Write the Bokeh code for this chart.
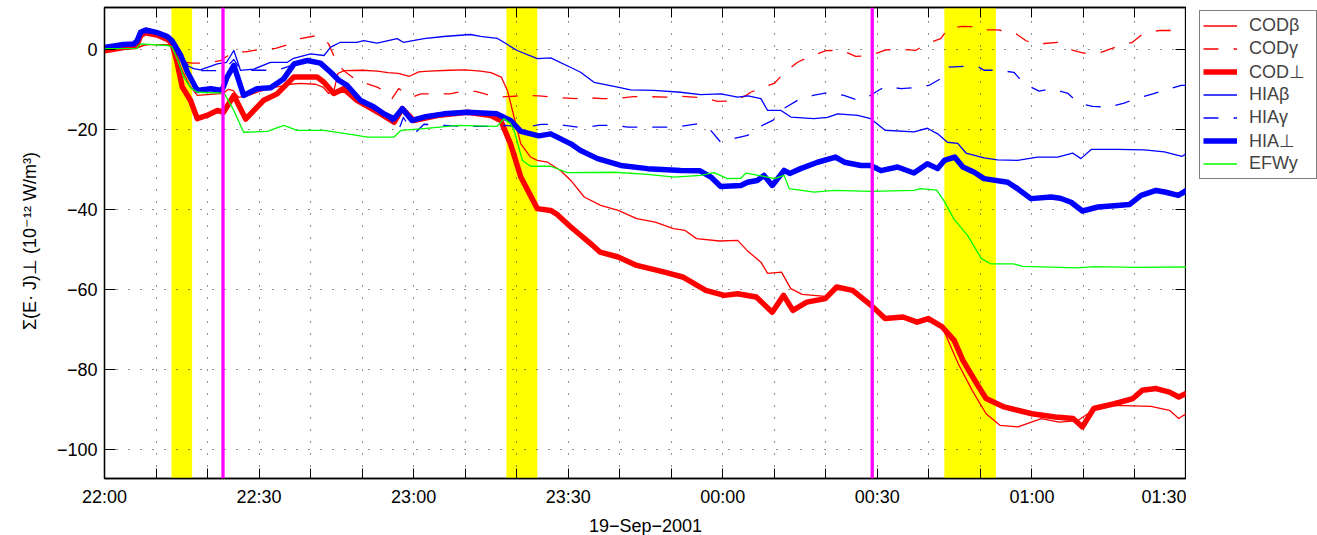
from bokeh.plotting import figure
from bokeh.layouts import row
from bokeh.models import Range1d, FixedTicker, LinearAxis, Legend, LegendItem, BoxAnnotation, Span
from bokeh.embed import file_html
from bokeh.resources import INLINE

# time in minutes after 22:00 UT (19-Sep-2001), value in 1e-12 W/m^3
cod_beta = [(0, -0.3), (6, 0.2), (8, 1.2), (12.5, 1.2), (13.5, 0), (15, -5), (16.5, -9), (18, -11.5),
            (20, -11.3), (23, -11), (24, -10), (25, -10.3), (26, -12), (28, -11.5), (30, -10.5),
            (33, -9.5), (36, -8.7), (38, -8.5), (41, -8.7), (42.5, -9.5), (43.5, -11), (44.5, -10.5),
            (45.3, -6), (46.5, -5.3), (50, -5.2), (53, -5.4), (55, -5.8), (57, -6), (59.2, -6.7),
            (61, -5.6), (63, -5.4), (67, -5.2), (70, -5.1), (73, -5.4), (75, -5.8), (77, -6.9),
            (78.2, -10.25), (79.5, -16.9), (80.8, -23.6), (82.7, -26.9), (84, -27.75), (86, -28.2),
            (88.5, -30.25), (90.5, -32.75), (93.1, -36.9), (96.3, -39), (99.7, -40.25), (103.3, -42.3),
            (106.9, -43.2), (110.4, -44.8), (112.7, -45.25), (114.9, -47.3), (119.4, -47.9),
            (122.9, -47.75), (124.7, -50.25), (127.4, -53.2), (128.7, -56), (131.4, -55.7),
            (133.2, -59.8), (135.4, -61.25), (139.9, -61.75), (142.5, -59.4), (145.2, -59.9),
            (148.8, -64.2), (151.5, -67.5), (155, -67), (157.7, -68.4), (159.9, -67.5), (162.6, -69.4),
            (165.7, -78.6), (168.4, -85.25), (171.1, -91.1), (173.8, -94), (177.3, -94.4),
            (181.8, -92.3), (185.3, -93.2), (188.9, -92.8), (192.4, -89.8), (196, -89),
            (203.1, -89.25), (206.7, -90.25), (208.5, -92.3), (210, -91)]

cod_gamma = [(0, -0.3), (6, 0.3), (8, 1.2), (12.5, 1.2), (13.5, -0.5), (14.8, -3), (17, -3.4), (20, -3.4),
             (22.5, -2.8), (24, -1.5), (25, -0.6), (27.4, -0.6), (29, -0.2), (30.6, 0), (33.2, 0.3),
             (36.1, 1.4), (38, 2.7), (41.3, 3.5), (42.5, 2.8), (43.5, 1.4), (45.2, -3.6), (46.4, -5.25),
             (49, -7.75), (52.9, -9.4), (54.5, -10.5), (55.8, -12.3), (57.1, -9.8), (59.7, -11.9),
             (61.4, -11.1), (67, -11.1), (69.5, -10.5), (72, -10.5), (73.5, -11), (76, -11.9),
             (78, -11.8), (82, -11.5), (84.3, -11.6), (88.8, -12.1), (91.5, -12.3), (93, -12),
             (96.7, -12.3), (99.8, -12.2), (102.7, -11.8), (105.6, -11.8), (109, -11.9), (112, -11.7),
             (115.3, -12), (117.7, -12.5), (119, -13), (121, -12.9), (123, -12.4), (124.5, -11.5),
             (125.4, -10.7), (128, -9.4), (130, -8.5), (132, -5.7), (134.5, -3.2), (136.7, -1.9),
             (140, -0.3), (143, -0.2), (145.8, -1.7), (148.3, -1.6), (151.7, -0.1), (154.6, 0),
             (157.5, -0.2), (159.8, 1.6), (162.3, 2.7), (163.7, 5.2), (166.5, 5.8), (169, 5.7),
             (170.4, 4.9), (173.3, 4.9), (176.5, 4.3), (178.8, 2.25), (180.5, 1.3), (182.4, 1.5),
             (185, 1.8), (188, -0.25), (190, -0.9), (193.4, -0.7), (196.3, 0.6), (199.5, 1.8),
             (201.5, 3.9), (204.7, 4.75), (207.5, 4.75), (210, 4.75)]

cod_perp = [(0, -0.3), (3.7, 0.5), (6.3, 1), (7, 3.5), (8, 4.2), (10.2, 3.6), (12.2, 2.5), (13.1, 1.5),
            (14, -2.75), (15.1, -9.4), (16.7, -12.75), (18, -17.3), (19.9, -16.5), (21.9, -15.25),
            (23.1, -15.7), (25.1, -11.5), (27.4, -17.4), (30.9, -12.7), (33.5, -11.1), (36.7, -6.9),
            (41.3, -6.9), (42.6, -8.2), (44.5, -11), (46.4, -9.8), (49, -12.75), (53.6, -16.1),
            (56.2, -18.2), (57.8, -14.8), (60, -17.75), (64.6, -16.5), (70.4, -15.7), (75, -16.5),
            (76.9, -17.75), (78.8, -23.6), (80.8, -31.9), (84, -39.8), (86.6, -40.25), (87.7, -41.1),
            (90.5, -44.4), (94.4, -48.6), (96.2, -50.7), (99.7, -51.9), (103.3, -54), (108.7, -55.7),
            (112.2, -56.9), (116.7, -60.25), (120.3, -61.5), (122.9, -61.1), (126.5, -61.9),
            (129.6, -65.7), (131.8, -61.5), (133.6, -65.25), (136.3, -63.2), (139.9, -62.3),
            (142.1, -59.4), (145.2, -60.25), (148.8, -64), (151.5, -67.3), (155, -66.9),
            (157.7, -68.2), (159.9, -67.3), (162.6, -69.4), (164.9, -72.75), (166.6, -77.75),
            (169.3, -83.6), (171.1, -87.3), (174.6, -89.4), (180, -91.1), (184.5, -91.9), (188, -92.3),
            (189.8, -94.4), (192, -89.8), (196, -88.6), (199.6, -87.3), (201.4, -85.25),
            (204.1, -84.8), (206.7, -85.7), (208.5, -86.9), (210, -86)]

hia_beta = [(0, 0.5), (6, 1.5), (7.5, 4.3), (10, 4), (12, 3), (13, 1.5), (13.8, 1.2), (14.8, -0.7),
            (16, -4), (17.3, -4.8), (18.6, -5.1), (21.9, -3.6), (23.7, -3.2), (25.1, -0.25),
            (26.4, -5.25), (29, -4.9), (32.2, -3.2), (35.5, -3.2), (36.7, -2.2), (40, -1.1),
            (42.6, -1.5), (43.9, 0.6), (45.8, 1.8), (49, 1.8), (50.3, 2.2), (52.9, 1.6), (56.8, 2.7),
            (58, 1.8), (62, 2.7), (65.8, 3.25), (71, 3.75), (73, 3.3), (76.2, 2.8), (80.1, -0.25),
            (84, -2.3), (86.6, -2.1), (90.5, -4.5), (92.4, -5.7), (95, -8.2), (98.9, -9.25),
            (102.1, -10.1), (106.6, -10.25), (111.8, -10.7), (115.7, -11.3), (119.6, -11.1),
            (122.9, -11.9), (124.9, -11.6), (127.4, -12.3), (128.7, -15.25), (131.3, -15.25),
            (133.2, -16.9), (137.7, -17.3), (140.3, -17), (142.3, -16.1), (146.2, -16.5),
            (148.7, -17.3), (151.5, -20.2), (157.1, -20.6), (159.7, -19.7), (161.7, -21.1),
            (163.6, -23.2), (165.6, -23.5), (167.2, -25.9), (170.7, -27.1), (173.3, -27.6),
            (177.2, -27.75), (181.1, -26.9), (185, -26.9), (187.9, -25.9), (189.5, -27.3),
            (191.5, -25), (196.6, -25), (201.8, -25.1), (205.7, -25.6), (209.1, -26.75), (210, -26)]

hia_gamma = [(0, 0.5), (3.7, 1.2), (6.3, 2), (7, 4), (8, 4.6), (10.2, 4), (12.2, 3), (13.1, 2), (15, -2),
             (17, -5), (19, -5.3), (22, -5.3), (24, -4), (25.1, -2.5), (26.5, -5.3), (29, -5.2),
             (32, -5.2), (34, -5), (36.8, -3.8), (39.4, -2.9), (41.9, -3.6), (43.9, -5.9), (45.5, -8),
             (47.1, -9.2), (49.7, -13), (52.3, -14.6), (54.2, -16.3), (55.8, -18), (57, -20.5),
             (58, -17), (59.2, -19.4), (60.5, -20.6), (62, -18.7), (66, -19), (70, -19.25),
             (75, -19.25), (78, -19), (81.4, -19.5), (84.7, -18.75), (88, -18.75), (93, -19.6),
             (95.9, -19), (99, -19), (101.6, -19.4), (104.8, -19.4), (108, -19.4), (111, -19.4),
             (115, -18.6), (117.7, -20.3), (119.6, -23.2), (122, -22.3), (124.8, -21.5), (127, -19.4),
             (129.7, -17.75), (131.8, -14.8), (134.8, -12.5), (137.5, -11.5), (140.6, -10.7),
             (143.5, -11.5), (146.4, -12.75), (148.3, -11.75), (150.5, -10), (151.7, -9.25),
             (154.6, -9.8), (157.5, -9.5), (160, -9), (162.3, -7.3), (163.9, -4.4), (166.8, -4.2),
             (169.7, -4.4), (170.7, -5.2), (173.4, -5.2), (176.5, -5.7), (178.5, -8.6), (181.4, -10.4),
             (184, -9.8), (187, -11), (189, -13.4), (191.8, -14.25), (194.8, -14.4), (197.9, -13.4),
             (200.2, -12.3), (203.5, -11.1), (206, -10.1), (209, -9), (210, -9)]

hia_perp = [(0, 0.5), (3.7, 1.25), (5.7, 1.4), (6.3, 2.1), (7, 4.3), (8, 4.9), (10.2, 4.2), (12.2, 3.25),
            (13.1, 2.2), (14.8, -1.5), (16.1, -5.7), (18, -10.25), (20.6, -9.8), (22.8, -10.25),
            (23.8, -6.9), (25.1, -4), (27, -11.5), (29.6, -9.8), (32.2, -9.6), (34.8, -7.3),
            (36.8, -3.6), (39.4, -2.75), (41.9, -3.4), (43.9, -5.7), (45.5, -7.75), (47.1, -9),
            (49.7, -12.75), (52.3, -14.4), (54.2, -16.1), (56.2, -17.3), (57.8, -14.8), (59.7, -17.75),
            (62, -16.9), (65.9, -16.1), (70.4, -15.7), (76.2, -16.1), (78.8, -17.75), (80.8, -20.5),
            (84.3, -21.6), (86.6, -21.1), (90.5, -23.6), (92.4, -25.25), (95.7, -27.3), (100.2, -29),
            (105.4, -29.8), (111.8, -30.25), (115.5, -30.3), (117.7, -31.9), (119.6, -34.25),
            (123.5, -34), (124.8, -33.2), (126.7, -32.75), (128, -31.5), (129.6, -34), (131.9, -30.25),
            (133, -31), (135.1, -29.8), (138.4, -28.2), (141.9, -26.9), (143.6, -28.2), (146.8, -29),
            (148.7, -29), (150.7, -30.3), (153.9, -29.4), (157.1, -30.9), (159.7, -28.6),
            (161.7, -29.8), (163, -27.75), (165, -26.9), (166.6, -29.4), (168.8, -30.7),
            (170.7, -32.3), (175.3, -33.2), (177.2, -34.8), (179.8, -37.3), (183.7, -36.9),
            (185.5, -37.2), (187.6, -38.2), (189.8, -40.4), (192.8, -39.4), (196.6, -39),
            (198.9, -38.8), (201.2, -36.5), (204.1, -35.25), (206, -35.7), (208.4, -36.5), (210, -35.25)]

efw_y = [(0, 0.2), (6.3, 0.3), (7, 1.4), (12.2, 1), (13.1, 0.6), (14.1, -2.3), (15.4, -7), (16.7, -9.6),
         (18, -10.7), (23.2, -10.9), (25.1, -15.25), (27, -20.7), (31.6, -20.5), (34.8, -19),
         (37.4, -20.25), (42.6, -20.25), (49, -21.5), (51, -21.9), (56.2, -21.9), (57.5, -20.25),
         (62, -19.8), (68.5, -19), (76.2, -19.25), (77.5, -17.3), (78.8, -18.5), (79.5, -20.25),
         (81.1, -27.75), (82.7, -29.2), (86.6, -29.2), (89.8, -30.8), (98.9, -30.7), (105.4, -31.25),
         (110.6, -31.9), (115.7, -31.5), (118.3, -30.8), (120.9, -32.3), (123.5, -32.2),
         (124.5, -30.9), (128, -31.75), (130, -32.3), (131.9, -31.5), (132.9, -34.8), (137.7, -35.7),
         (141.6, -35.25), (148.7, -35.5), (157.1, -35.25), (158.4, -34.8), (161.5, -35.2),
         (163, -38), (164.9, -42.5), (167.5, -46.5), (170.2, -52.3), (172, -53.6), (176.4, -53.6),
         (178.2, -54.25), (188.9, -54.6), (192, -54.3), (200, -54.5), (210, -54.4)]

series_names = ["CODβ", "CODγ", "COD⊥", "HIAβ", "HIAγ", "HIA⊥", "EFWy"]

x_tick_pos = [0, 30, 60, 90, 120, 150, 180, 210]
x_tick_labels = ["22:00", "22:30", "23:00", "23:30", "00:00", "00:30", "01:00", "01:30"]
x_minor_pos = [10, 20, 40, 50, 70, 80, 100, 110, 130, 140, 160, 170, 190, 200]
y_tick_pos = [-100, -80, -60, -40, -20, 0]
y_tick_labels = ["−100", "−80", "−60", "−40", "−20", "0"]

yellow_start = [13, 78, 163]
yellow_end = [17, 84, 173]
magenta_times = [23, 149]

FONT = "Liberation Sans"

p = figure(frame_width=1082, frame_height=471, x_range=Range1d(0, 210), y_range=Range1d(-107.3, 10.5),
           output_backend="svg", toolbar_location=None,
           min_border_left=104, min_border_right=0, min_border_top=7, min_border_bottom=57)
p.background_fill_color = "white"
p.border_fill_color = "white"
p.outline_line_color = "black"
p.outline_line_width = 1.3

xt = FixedTicker(ticks=x_tick_pos, minor_ticks=x_minor_pos)
yt = FixedTicker(ticks=y_tick_pos, minor_ticks=[])

bottom_ax = p.xaxis[0]
left_ax = p.yaxis[0]
bottom_ax.ticker = xt
left_ax.ticker = yt
bottom_ax.major_label_overrides = dict(zip(x_tick_pos, x_tick_labels))
left_ax.major_label_overrides = dict(zip(y_tick_pos, y_tick_labels))
bottom_ax.axis_label = "19−Sep−2001"
left_ax.axis_label = "Σ(E· J)⊥ (10⁻¹² W/m³)"

top_ax = LinearAxis(ticker=xt, major_label_standoff=0,
                    major_label_overrides={t: "" for t in x_tick_pos})
right_ax = LinearAxis(ticker=yt, major_label_standoff=0,
                      major_label_overrides={t: "" for t in y_tick_pos})
p.add_layout(top_ax, "above")
p.add_layout(right_ax, "right")

for ax in [bottom_ax, top_ax]:
    ax.major_tick_in = 10
    ax.major_tick_out = 0
    ax.minor_tick_in = 10
    ax.minor_tick_out = 0
    ax.minor_tick_line_color = "black"
for ax in [left_ax, right_ax]:
    ax.major_tick_in = 11
    ax.major_tick_out = 0
for ax in [bottom_ax, left_ax, top_ax, right_ax]:
    ax.axis_line_color = "black"
    ax.axis_line_width = 1.3
    ax.major_tick_line_color = "black"
    ax.major_label_text_font = FONT
    ax.axis_label_text_font = FONT
    ax.axis_label_text_font_style = "normal"
    ax.axis_label_text_color = "black"
    ax.major_label_text_color = "black"
    ax.major_label_text_font_size = "18px"
    ax.axis_label_text_font_size = "18px"

bottom_ax.major_label_standoff = 8
left_ax.major_label_standoff = 7
bottom_ax.axis_label_standoff = 6
left_ax.axis_label_standoff = 14

for g in [p.xgrid[0], p.ygrid[0]]:
    g.grid_line_color = "#222222"
    g.grid_line_dash = "1 11"
    g.grid_line_width = 1
p.xgrid[0].minor_grid_line_color = "#222222"
p.xgrid[0].minor_grid_line_dash = "1 11"

for a, b in zip(yellow_start, yellow_end):
    p.add_layout(BoxAnnotation(left=a, right=b, fill_color="#FFFF00", fill_alpha=1.0,
                               line_color=None, level="image"))

def xy(s):
    return [q[0] for q in s], [q[1] for q in s]

styles = [
    (cod_beta, "#FF0000", 1.3, "solid"),
    (cod_gamma, "#FF0000", 1.3, "15 15"),
    (cod_perp, "#FF0000", 5.5, "solid"),
    (hia_beta, "#0000FF", 1.3, "solid"),
    (hia_gamma, "#0000FF", 1.3, "15 15"),
    (hia_perp, "#0000FF", 5.5, "solid"),
    (efw_y, "#00FF00", 1.3, "solid"),
]
for s, c, w, d in styles:
    xs, ys = xy(s)
    p.line(xs, ys, line_color=c, line_width=w, line_dash=d, line_join="round")

for m in magenta_times:
    p.add_layout(Span(location=m, dimension="height", line_color="#FF00FF", line_width=3.3))

# legend panel to the right of the axes (keys only: the series ranges lie outside its view)
lg = figure(width=131, height=535, x_range=Range1d(-2000, -1999), y_range=Range1d(-2000, -1999),
            output_backend="svg", toolbar_location=None, min_border=0,
            x_axis_location=None, y_axis_location=None)
lg.outline_line_color = None
lg.grid.visible = False
lg.background_fill_color = "white"
lg.border_fill_color = "white"
items = []
for (s, c, w, d), name in zip(styles, series_names):
    xs, ys = xy(s)
    r = lg.line(xs, ys, line_color=c, line_width=w, line_dash=d)
    items.append(LegendItem(label=name, renderers=[r]))

legend = Legend(items=items, location=(13, 296), padding=3, spacing=0, label_height=23,
                glyph_height=23, glyph_width=34, label_standoff=12, label_width=64,
                label_text_font=FONT, label_text_font_size="18px",
                border_line_color="black", border_line_width=1.5,
                background_fill_color="white", background_fill_alpha=1.0, margin=0)
lg.add_layout(legend)

layout = row(p, lg, spacing=0)
open("out.html", "w").write(file_html(layout, INLINE))
